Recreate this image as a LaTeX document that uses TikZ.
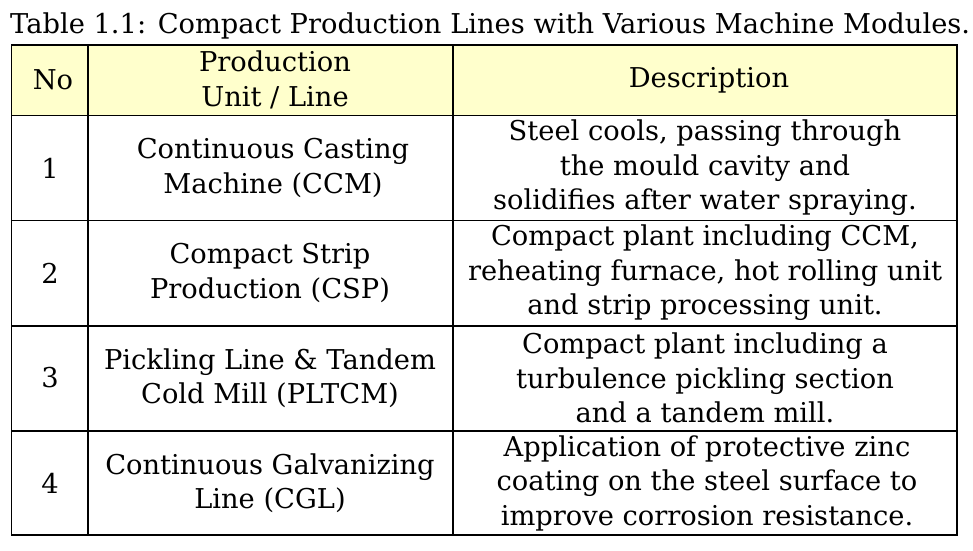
\documentclass[tikz,border=0pt]{standalone}
\usepackage{fontspec}
\setmainfont{DejaVu Serif}
\definecolor{headfill}{RGB}{255,255,204}
\begin{document}
\begin{tikzpicture}[x=1pt,y=-1pt,
  cell/.style={align=center,inner sep=0pt,font=\fontsize{27.3}{34.5}\selectfont},
  rule/.style={line width=1.3pt}]
\useasboundingbox (0,0) rectangle (973,550);
% header fill
\fill[headfill] (11.5,45) rectangle (957,115.5);
% title
\node[anchor=base west,inner sep=0pt,font=\fontsize{27.3}{34.5}\selectfont] (title) at (10,33) {Table 1.1: Compact Production Lines with Various Machine Modules.};
% grid
\draw[rule] (11.5,45) rectangle (957,535);
\foreach \y in {115.5,220.7,326,431} \draw[rule] (11.5,\y) -- (957,\y);
\draw[rule] (88,45) -- (88,535);
\draw[rule] (453,45) -- (453,535);
% header
\node[cell] (h1) at (53,80) {No};
\node[cell] (h2) at (275,80) {Production\\Unit / Line};
\node[cell] (h3) at (709,80) {Description};
% row 1
\node[cell] (r1a) at (50,168) {1};
\node[cell] (r1b) at (273,168) {Continuous Casting\\Machine (CCM)};
\node[cell] (r1c) at (705,168) {Steel cools, passing through\\the mould cavity and\\solidifies after water spraying.};
% row 2
\node[cell] (r2a) at (50,273) {2};
\node[cell] (r2b) at (270,273) {Compact Strip\\Production (CSP)};
\node[cell] (r2c) at (705,273) {Compact plant including CCM,\\reheating furnace, hot rolling unit\\and strip processing unit.};
% row 3
\node[cell] (r3a) at (50,378) {3};
\node[cell] (r3b) at (270,378) {Pickling Line \& Tandem\\Cold Mill (PLTCM)};
\node[cell] (r3c) at (705,378) {Compact plant including a\\turbulence pickling section\\and a tandem mill.};
% row 4
\node[cell] (r4a) at (50,483) {4};
\node[cell] (r4b) at (270,483) {Continuous Galvanizing\\Line (CGL)};
\node[cell] (r4c) at (707,483) {Application of protective zinc\\coating on the steel surface to\\improve corrosion resistance.};
\end{tikzpicture}
\end{document}
